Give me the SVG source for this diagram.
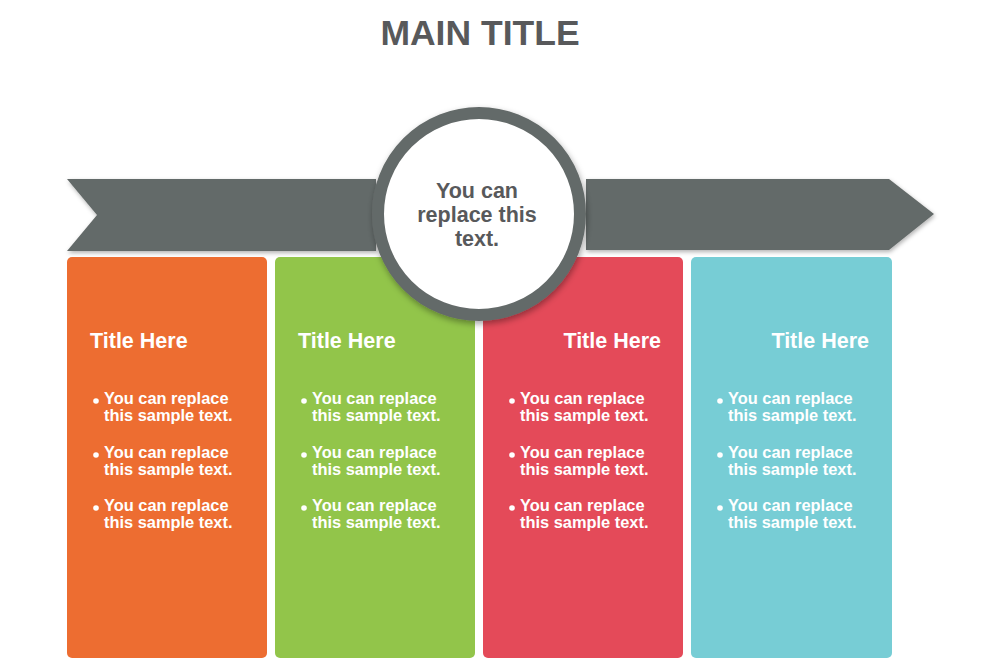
<svg xmlns="http://www.w3.org/2000/svg" width="1000" height="670" viewBox="0 0 1000 670">
<defs>
<filter id="sh" x="-20%" y="-20%" width="140%" height="140%">
<feDropShadow dx="1" dy="2" stdDeviation="2" flood-color="#000" flood-opacity="0.3"/>
</filter>
<filter id="shc" x="-20%" y="-20%" width="140%" height="140%">
<feDropShadow dx="1" dy="3" stdDeviation="3" flood-color="#000" flood-opacity="0.35"/>
</filter>
</defs>
<style>
text{font-family:"Liberation Sans",Arial,sans-serif;font-weight:bold}
.main{font-size:35.5px;fill:#58595b}
.ctext{font-size:21.5px;fill:#58595b}
.ttl{font-size:21.5px;fill:#fff}
.bl{font-size:16.4px;fill:#fff}
.dot{fill:#fff}
.rib{fill:#646a69}
</style>
<rect width="1000" height="670" fill="#fff"/>
<text class="main" x="480" y="45" text-anchor="middle">MAIN TITLE</text>
<g id="ribbons">
<polygon id="ribbon-left" class="rib" filter="url(#sh)" points="67,179 376,179 376,251 67,251 97,215"/>
<polygon id="ribbon-right" class="rib" filter="url(#sh)" points="586,179 889,179 934,214 889,250 586,250"/>
</g>
<g id="card1">
<rect x="67" y="257" width="200" height="401" rx="5" fill="#ed6d31"/>
<text class="ttl" x="90" y="348">Title Here</text>
<circle class="dot" cx="96" cy="401" r="2.8"/>
<text class="bl" x="104" y="404">You can replace</text>
<text class="bl" x="104" y="421">this sample text.</text>
<circle class="dot" cx="96" cy="455" r="2.8"/>
<text class="bl" x="104" y="458">You can replace</text>
<text class="bl" x="104" y="475">this sample text.</text>
<circle class="dot" cx="96" cy="508" r="2.8"/>
<text class="bl" x="104" y="511">You can replace</text>
<text class="bl" x="104" y="528">this sample text.</text>
</g>
<g id="card2">
<rect x="275" y="257" width="200" height="401" rx="5" fill="#92c54a"/>
<text class="ttl" x="298" y="348">Title Here</text>
<circle class="dot" cx="304" cy="401" r="2.8"/>
<text class="bl" x="312" y="404">You can replace</text>
<text class="bl" x="312" y="421">this sample text.</text>
<circle class="dot" cx="304" cy="455" r="2.8"/>
<text class="bl" x="312" y="458">You can replace</text>
<text class="bl" x="312" y="475">this sample text.</text>
<circle class="dot" cx="304" cy="508" r="2.8"/>
<text class="bl" x="312" y="511">You can replace</text>
<text class="bl" x="312" y="528">this sample text.</text>
</g>
<g id="card3">
<rect x="483" y="257" width="200" height="401" rx="5" fill="#e44a59"/>
<text class="ttl" x="661" y="348" text-anchor="end">Title Here</text>
<circle class="dot" cx="512" cy="401" r="2.8"/>
<text class="bl" x="520" y="404">You can replace</text>
<text class="bl" x="520" y="421">this sample text.</text>
<circle class="dot" cx="512" cy="455" r="2.8"/>
<text class="bl" x="520" y="458">You can replace</text>
<text class="bl" x="520" y="475">this sample text.</text>
<circle class="dot" cx="512" cy="508" r="2.8"/>
<text class="bl" x="520" y="511">You can replace</text>
<text class="bl" x="520" y="528">this sample text.</text>
</g>
<g id="card4">
<rect x="691" y="257" width="201" height="401" rx="5" fill="#77cdd5"/>
<text class="ttl" x="869" y="348" text-anchor="end">Title Here</text>
<circle class="dot" cx="720" cy="401" r="2.8"/>
<text class="bl" x="728" y="404">You can replace</text>
<text class="bl" x="728" y="421">this sample text.</text>
<circle class="dot" cx="720" cy="455" r="2.8"/>
<text class="bl" x="728" y="458">You can replace</text>
<text class="bl" x="728" y="475">this sample text.</text>
<circle class="dot" cx="720" cy="508" r="2.8"/>
<text class="bl" x="728" y="511">You can replace</text>
<text class="bl" x="728" y="528">this sample text.</text>
</g>
<g id="center">
<circle cx="479" cy="214" r="101" fill="#fff" stroke="#646a69" stroke-width="12" filter="url(#shc)"/>
<text class="ctext" x="477" y="198" text-anchor="middle">You can</text>
<text class="ctext" x="477" y="222" text-anchor="middle">replace this</text>
<text class="ctext" x="477" y="246" text-anchor="middle">text.</text>
</g>
<g id="connectors"/>
</svg>
